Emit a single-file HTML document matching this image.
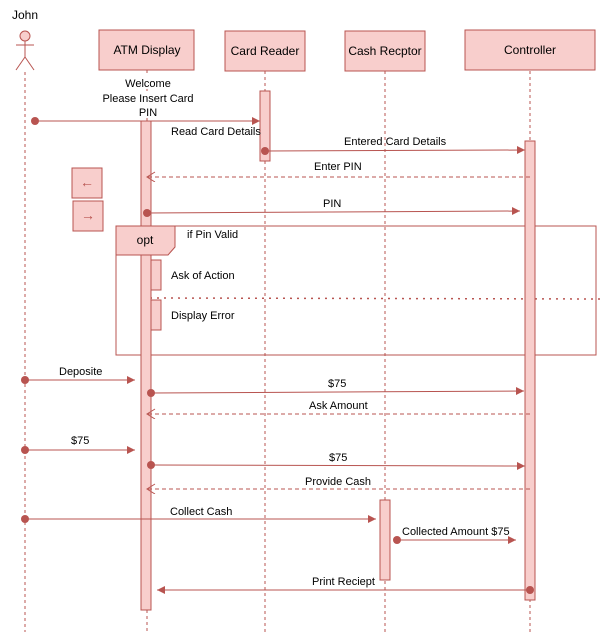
<!DOCTYPE html>
<html><head><meta charset="utf-8"><style>
html,body{margin:0;padding:0;background:#fff;}
svg{display:block;font-family:"Liberation Sans",Helvetica,Arial,sans-serif;}
text{font-size:11px;fill:#000;}
</style></head><body>
<svg width="612" height="642" viewBox="0 0 612 642" xmlns="http://www.w3.org/2000/svg">
<defs>
<marker id="a" markerWidth="10" markerHeight="10" refX="8" refY="4" orient="auto" markerUnits="userSpaceOnUse"><path d="M0,0 L8,4 L0,8 Z" fill="#b85450"/></marker>
<marker id="o" markerWidth="12" markerHeight="12" refX="9" refY="5" orient="auto" markerUnits="userSpaceOnUse"><path d="M1,0 L9,5 L1,10" fill="none" stroke="#b85450"/></marker>
</defs>
<g stroke="#b85450" fill="#f8cecc">
<g stroke-dasharray="3,3" fill="none">
<line x1="25" y1="72" x2="25" y2="632"/>
<line x1="147" y1="70" x2="147" y2="632"/>
<line x1="265" y1="71" x2="265" y2="632"/>
<line x1="385" y1="71" x2="385" y2="632"/>
<line x1="530" y1="71" x2="530" y2="632"/>
</g>
<circle cx="25" cy="36" r="5"/>
<line x1="25" y1="41" x2="25" y2="57"/>
<line x1="16" y1="45" x2="34" y2="45"/>
<line x1="25" y1="57" x2="16" y2="70"/>
<line x1="25" y1="57" x2="34" y2="70"/>
<rect x="99" y="30" width="95" height="40"/>
<rect x="225" y="31" width="80" height="40"/>
<rect x="345" y="31" width="80" height="40"/>
<rect x="465" y="30" width="130" height="40"/>
<rect x="116" y="226" width="480" height="129" fill="none"/>
<line x1="150" y1="298" x2="600" y2="299" stroke-dasharray="2,5" stroke-width="1.5" fill="none"/>
<rect x="141" y="121" width="10" height="489"/>
<rect x="260" y="91" width="10" height="70"/>
<rect x="525" y="141" width="10" height="459"/>
<rect x="380" y="500" width="10" height="80"/>
<rect x="151" y="260" width="10" height="30"/>
<rect x="151" y="300" width="10" height="30"/>
<path d="M116,226 H175 V247 L168,255 H116 Z"/>
<rect x="72" y="168" width="30" height="30"/>
<rect x="73" y="201" width="30" height="30"/>
</g>
<g stroke="#b85450" fill="none">
<line x1="35" y1="121" x2="260" y2="121" marker-end="url(#a)"/>
<line x1="265" y1="151" x2="525" y2="150" marker-end="url(#a)"/>
<line x1="530" y1="177" x2="147" y2="177" stroke-dasharray="4,3" marker-end="url(#o)"/>
<line x1="147" y1="213" x2="520" y2="211" marker-end="url(#a)"/>
<line x1="25" y1="380" x2="135" y2="380" marker-end="url(#a)"/>
<line x1="151" y1="393" x2="524" y2="391" marker-end="url(#a)"/>
<line x1="530" y1="414" x2="147" y2="414" stroke-dasharray="4,3" marker-end="url(#o)"/>
<line x1="25" y1="450" x2="135" y2="450" marker-end="url(#a)"/>
<line x1="151" y1="465" x2="525" y2="466" marker-end="url(#a)"/>
<line x1="530" y1="489" x2="147" y2="489" stroke-dasharray="4,3" marker-end="url(#o)"/>
<line x1="25" y1="519" x2="376" y2="519" marker-end="url(#a)"/>
<line x1="397" y1="540" x2="516" y2="540" marker-end="url(#a)"/>
<line x1="530" y1="590" x2="157" y2="590" marker-end="url(#a)"/>
</g>
<g fill="#b85450">
<circle cx="35" cy="121" r="4"/><circle cx="265" cy="151" r="4"/><circle cx="147" cy="213" r="4"/>
<circle cx="25" cy="380" r="4"/><circle cx="151" cy="393" r="4"/><circle cx="25" cy="450" r="4"/>
<circle cx="151" cy="465" r="4"/><circle cx="25" cy="519" r="4"/><circle cx="397" cy="540" r="4"/>
<circle cx="530" cy="590" r="4"/>
</g>
<g text-anchor="middle">
<text x="147" y="54" style="font-size:12px">ATM Display</text>
<text x="265" y="55" style="font-size:12px">Card Reader</text>
<text x="385" y="55" style="font-size:12px">Cash Recptor</text>
<text x="530" y="54" style="font-size:12px">Controller</text>
<text x="145" y="244" style="font-size:12px">opt</text>
<text x="87" y="187" style="font-size:14px;fill:#b85450">←</text>
<text x="88" y="220" style="font-size:14px;fill:#b85450">→</text>
<rect x="125" y="76" width="46" height="13" fill="#fff"/>
<text x="148" y="87">Welcome</text>
<rect x="101" y="91" width="93" height="13" fill="#fff"/>
<text x="148" y="102">Please Insert Card</text>
<rect x="138" y="105" width="20" height="13" fill="#fff"/>
<text x="148" y="116">PIN</text>
</g>
<g>
<text x="12" y="19" style="font-size:12px">John</text>
<text x="171" y="135">Read Card Details</text>
<text x="344" y="145">Entered Card Details</text>
<text x="314" y="170">Enter PIN</text>
<text x="323" y="207">PIN</text>
<text x="187" y="238">if Pin Valid</text>
<text x="171" y="279">Ask of Action</text>
<text x="171" y="319">Display Error</text>
<text x="59" y="375">Deposite</text>
<text x="328" y="387">$75</text>
<text x="309" y="409">Ask Amount</text>
<text x="71" y="444">$75</text>
<text x="329" y="461">$75</text>
<text x="305" y="485">Provide Cash</text>
<text x="170" y="515">Collect Cash</text>
<text x="402" y="535">Collected Amount $75</text>
<text x="312" y="585">Print Reciept</text>
</g>
</svg>
</body></html>
